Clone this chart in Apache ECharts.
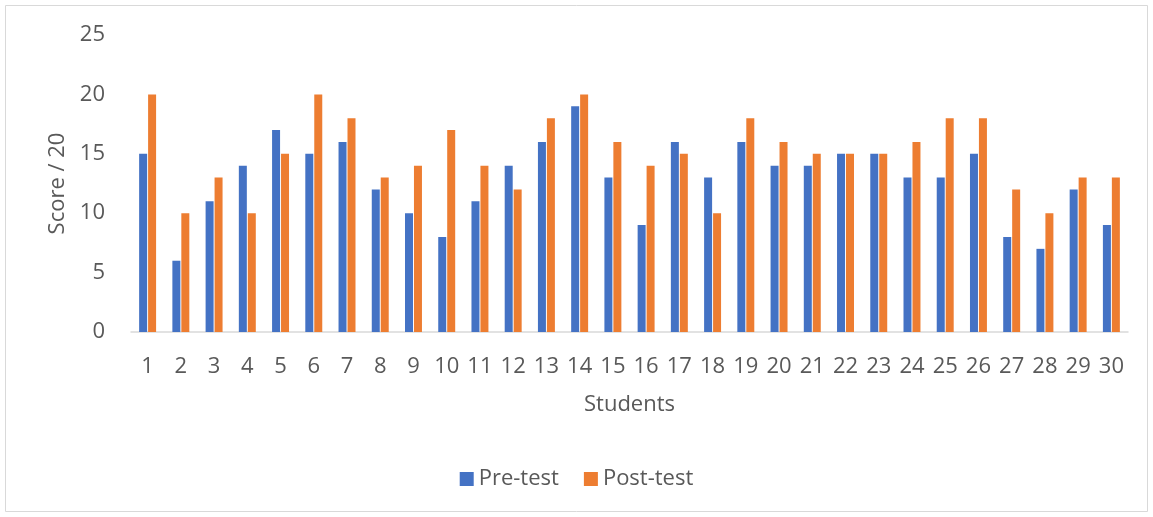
<!DOCTYPE html>
<html>
<head>
<meta charset="utf-8">
<script src="https://cdn.jsdelivr.net/npm/echarts@6/dist/echarts.min.js"></script>
<style>
  html, body { margin: 0; padding: 0; background: #fff; }
  #chart { width: 1153px; height: 517px; }
</style>
</head>
<body>
<div id="chart"></div>
<script>
const students = ['1','2','3','4','5','6','7','8','9','10','11','12','13','14','15','16','17','18','19','20','21','22','23','24','25','26','27','28','29','30']
const preTest = [15, 6, 11, 14, 17, 15, 16, 12, 10, 8, 11, 14, 16, 19, 13, 9, 16, 13, 16, 14, 14, 15, 15, 13, 13, 15, 8, 7, 12, 9]
const postTest = [20, 10, 13, 10, 15, 20, 18, 13, 14, 17, 14, 12, 18, 20, 16, 14, 15, 10, 18, 16, 15, 15, 15, 16, 18, 18, 12, 10, 13, 13]

const font = 'Open Sans'
const textColor = '#595959'

const chart = echarts.init(document.getElementById('chart'))
chart.setOption({
  backgroundColor: '#fff',
  animation: false,
  textStyle: { fontFamily: font },
  graphic: [
    {
      type: 'rect',
      shape: { x: 5.5, y: 5.5, width: 1142, height: 506 },
      style: { fill: 'none', stroke: '#d9d9d9', lineWidth: 1 },
      silent: true,
    },
  ],
  grid: {
    left: 131,
    right: 25,
    top: 35,
    bottom: 185,
  },
  legend: {
    bottom: 22,
    left: 'center',
    itemWidth: 14,
    itemHeight: 14,
    itemGap: 25,
    icon: 'rect',
    textStyle: { color: textColor, fontSize: 22, fontFamily: font },
    data: ['Pre-test', 'Post-test'],
  },
  xAxis: {
    type: 'category',
    data: students,
    name: 'Students',
    nameLocation: 'middle',
    nameGap: 62,
    nameTextStyle: { color: textColor, fontSize: 22, fontFamily: font },
    axisLine: { lineStyle: { color: '#d9d9d9', width: 1.5 } },
    axisTick: { show: false },
    axisLabel: { color: textColor, fontSize: 22, margin: 24, interval: 0, fontFamily: font },
  },
  yAxis: {
    type: 'value',
    min: 0,
    max: 25,
    interval: 5,
    name: 'Score / 20',
    nameLocation: 'middle',
    nameGap: 62,
    nameTextStyle: { color: textColor, fontSize: 22, fontFamily: font },
    splitLine: { show: false },
    axisLine: { show: false },
    axisTick: { show: false },
    axisLabel: { color: textColor, fontSize: 22, margin: 26, fontFamily: font },
  },
  series: [
    {
      name: 'Pre-test',
      type: 'bar',
      barWidth: 8,
      barGap: '12%',
      itemStyle: { color: '#4472C4' },
      data: preTest,
    },
    {
      name: 'Post-test',
      type: 'bar',
      barWidth: 8,
      barGap: '12%',
      itemStyle: { color: '#ED7D31' },
      data: postTest,
    },
  ],
})
</script>
</body>
</html>
